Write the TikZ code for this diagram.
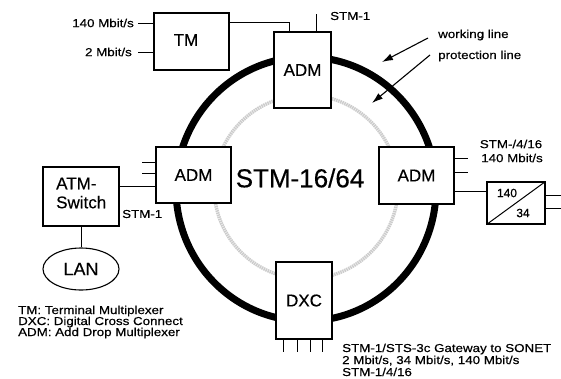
\documentclass[tikz,border=0pt]{standalone}
\usepackage{fontspec}
\setmainfont{Liberation Sans}[FakeBold=0.4]
\newfontfamily\smallfont[FakeStretch=1.16,FakeBold=0.5]{Liberation Sans}
\usetikzlibrary{calc,arrows.meta,shapes.geometric}
\tikzset{
  box/.style={draw, line width=1.1pt, fill=white, inner sep=0pt, font=\fontsize{17}{19}\selectfont},
  conn/.style={line width=1pt},
  small/.style={inner sep=0pt, font=\smallfont\fontsize{11.5}{12}\selectfont},
  pointer/.style={line width=1.1pt, -{Latex[length=11pt,width=7pt]}},
}
\begin{document}
\begin{tikzpicture}[x=1pt,y=-1pt]
\useasboundingbox (0,0) rectangle (561,378);
% rings
\draw[line width=7pt] (306,189) ellipse [x radius=130, y radius=132];
\draw[gray!40, line width=3.5pt, dash pattern=on 1.5pt off 0.7pt] (306,187) circle [radius=92];
% boxes
\node[box, minimum width=57pt, minimum height=76pt] (ADMt) at (302.5,70) {ADM};
\node[box, minimum width=75pt, minimum height=56pt] (ADMl) at (193.5,175) {ADM};
\node[box, minimum width=75pt, minimum height=57pt] (ADMr) at (416.5,175.5) {ADM};
\node[box, minimum width=56pt, minimum height=77pt] (DXC) at (304,300.5) {DXC};
\node[box, minimum width=75pt, minimum height=57pt] (TM) at (191.5,41.5) {};
\node[font=\fontsize{17}{19}\selectfont, inner sep=0pt] (TMt) at (186,40) {TM};
\node[box, minimum width=76pt, minimum height=59pt] (ATM) at (81,196.5) {};
\node[font=\fontsize{17}{19}\selectfont, inner sep=0pt, align=left, anchor=west] (ATMt) at (56,193) {ATM-\\Switch};
\node[draw, line width=1.1pt, ellipse, minimum width=76pt, minimum height=42pt, inner sep=0pt, font=\fontsize{18}{20}\selectfont] (LAN) at (81,269) {LAN};
\node[box, minimum width=58pt, minimum height=42pt] (MUX) at (516,203) {};
\draw[conn] (MUX.south west) -- (MUX.north east);
\node[inner sep=0pt, font=\fontsize{12}{12}\selectfont] (m140) at (507,193) {140};
\node[inner sep=0pt, font=\fontsize{12}{12}\selectfont] (m34) at (523,213) {34};
% central label
\node[inner sep=0pt, font=\fontsize{26}{28}\selectfont] (ring) at (300,178) {STM-16/64};
% TM inputs
\coordinate (i140) at (138,23);
\coordinate (i2) at (138,52);
\draw[conn] (i140) -- (TM.west |- i140);
\draw[conn] (i2) -- (TM.west |- i2);
\node[small, anchor=east] (l140) at (134,23) {140 Mbit/s};
\node[small, anchor=east] (l2) at (132,52) {2 Mbit/s};
% TM to top ADM
\draw[conn] (TM.east |- 0,22) -| ($(ADMt.north west)+(16,0)$);
\coordinate (stmtop) at ($(ADMt.north west)+(43,-17)$);
\draw[conn] ($(ADMt.north west)+(43,0)$) -- (stmtop);
\node[small, anchor=west] (lstmtop) at (330,16) {STM-1};
% left ADM
\coordinate (la1) at (142,162);
\coordinate (la2) at (142,173);
\draw[conn] (la1) -- (ADMl.west |- la1);
\draw[conn] (la2) -- (ADMl.west |- la2);
\draw[conn] (ATM.east |- 0,186) -- (ADMl.west |- 0,186);
\node[small, anchor=west] (lstmatm) at (122,214) {STM-1};
\draw[conn] (ATM.south) -- (LAN.north);
% right ADM
\coordinate (ra1) at (468,158);
\coordinate (ra2) at (468,172);
\draw[conn] (ADMr.east |- ra1) -- (ra1);
\draw[conn] (ADMr.east |- ra2) -- (ra2);
\draw[conn] (ADMr.east |- 0,191) -- (MUX.west |- 0,191);
\coordinate (mo1) at (561,195);
\coordinate (mo2) at (561,208);
\draw[conn] (MUX.east |- mo1) -- (mo1);
\draw[conn] (MUX.east |- mo2) -- (mo2);
\node[small] (lstm4) at (511,144) {STM-/4/16};
\node[small] (l140r) at (512,158) {140 Mbit/s};
% DXC stubs
\foreach \x [count=\i] in {283,297,310,322} {
  \coordinate (d\i) at (\x,352);
  \draw[conn] (\x,339) -- (d\i);
}
% bottom right text
\node[small, anchor=base west] (b1) at (342,352) {STM-1/STS-3c Gateway to SONET};
\node[small, anchor=base west] (b2) at (342,364) {2 Mbit/s, 34 Mbit/s, 140 Mbit/s};
\node[small, anchor=base west] (b3) at (342,376) {STM-1/4/16};
% legend
\node[small, anchor=base west] (g1) at (18,314) {TM: Terminal Multiplexer};
\node[small, anchor=base west] (g2) at (18,325) {DXC: Digital Cross Connect};
\node[small, anchor=base west] (g3) at (18,336) {ADM: Add Drop Multiplexer};
% pointers
\node[small, anchor=west] (wl) at (438,35) {working line};
\node[small, anchor=west] (pl) at (438,56) {protection line};
\coordinate (ws) at (428,38);
\coordinate (we) at (382,62);
\coordinate (ps) at (430,55);
\coordinate (pe) at (372,103);
\draw[pointer] (ws) -- (we);
\draw[pointer] (ps) -- (pe);
\end{tikzpicture}
\end{document}
